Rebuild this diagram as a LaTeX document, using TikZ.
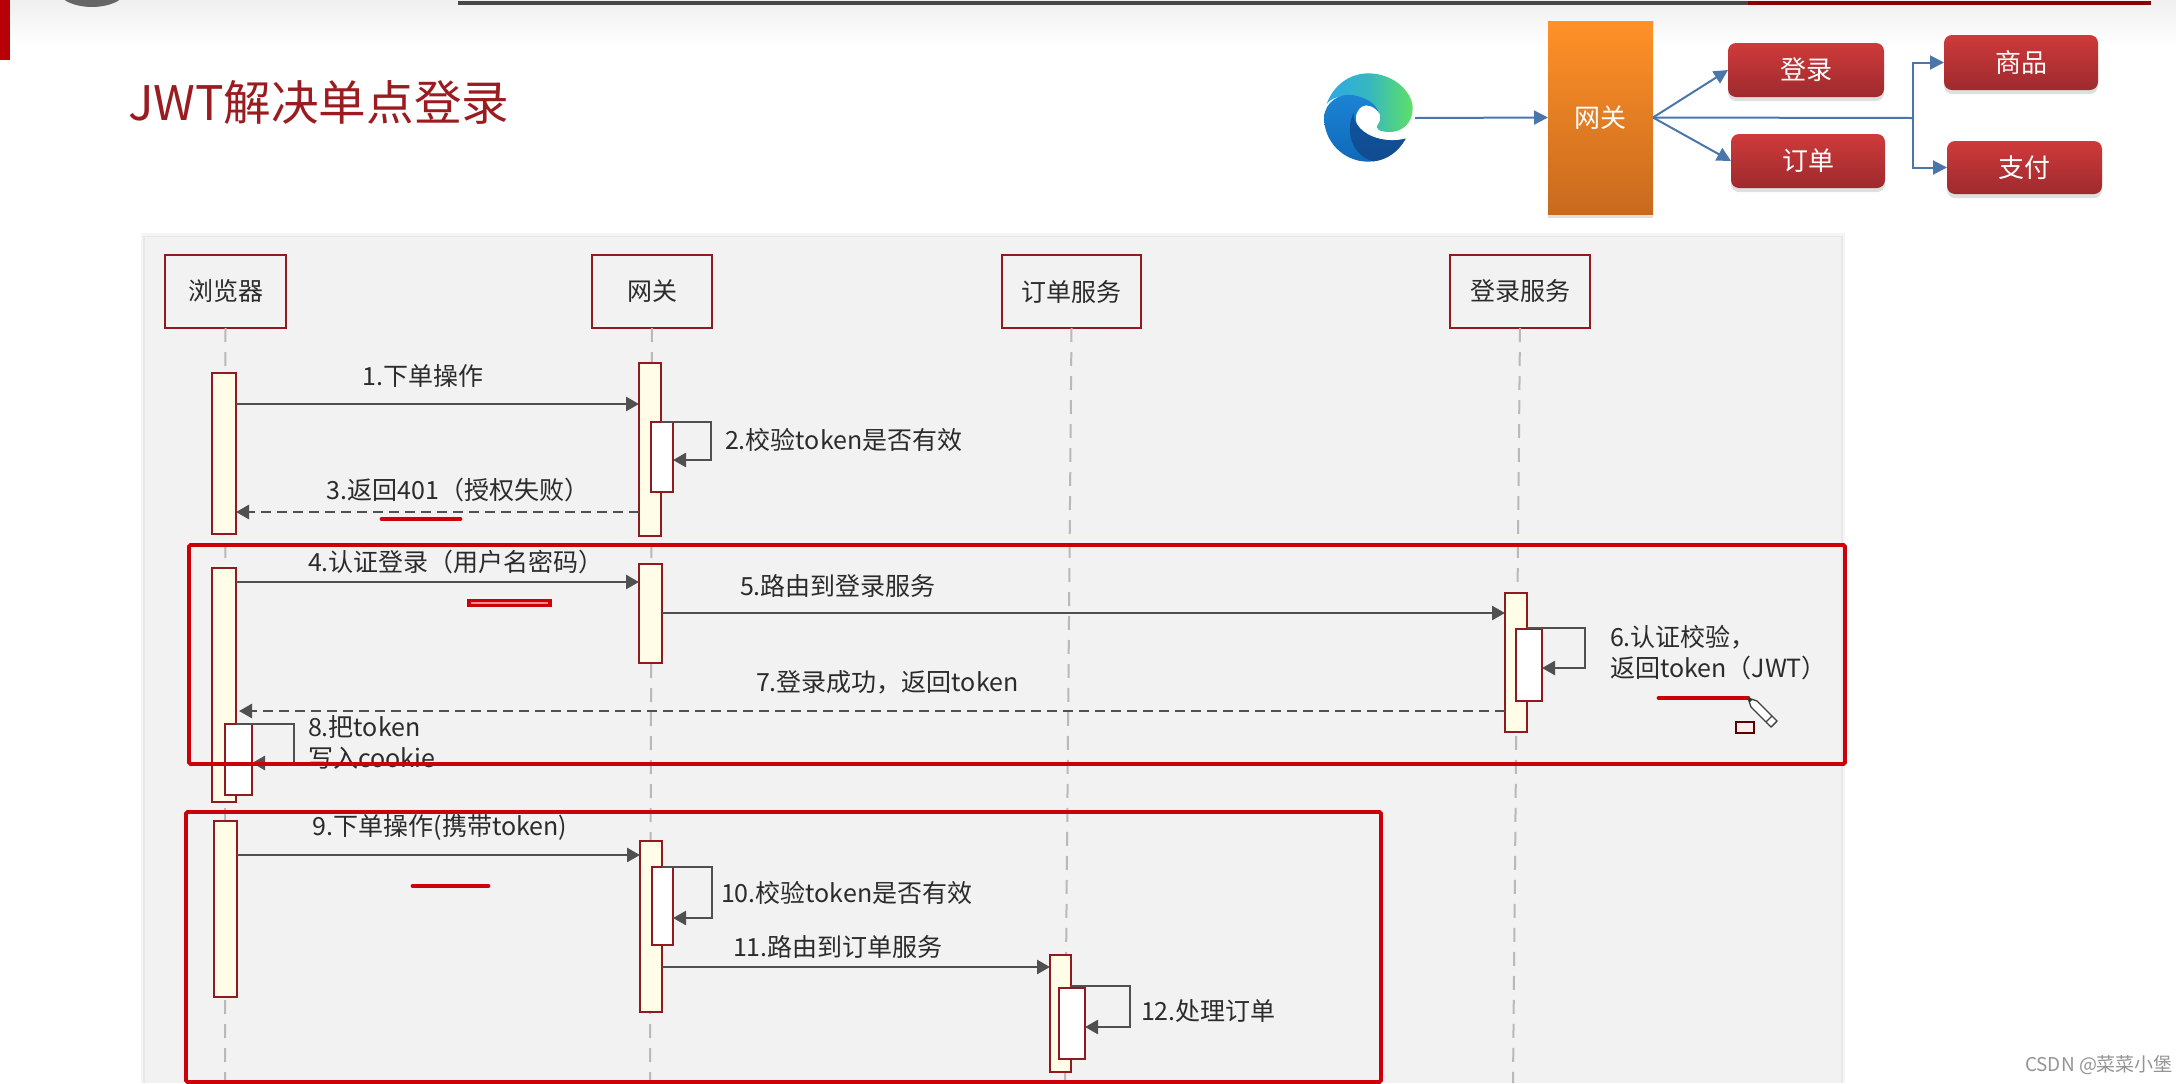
\documentclass[tikz,border=0pt]{standalone}
\usepackage{fontspec}
\setmainfont{Noto Sans CJK SC}
\usetikzlibrary{arrows.meta,shadows,calc}
\definecolor{panelc}{HTML}{F2F2F3}
\definecolor{headc}{HTML}{8F1A1F}
\definecolor{actfill}{HTML}{FFFDE8}
\definecolor{inkc}{HTML}{2B2B2B}
\definecolor{arrowc}{HTML}{505050}
\definecolor{redbox}{HTML}{CC0008}
\definecolor{bluec}{HTML}{4A76AC}
\definecolor{titlec}{HTML}{9B1C20}
\definecolor{svctop}{HTML}{CF3A3A}
\definecolor{svcbot}{HTML}{9E2A2E}
\definecolor{gwtop}{HTML}{FF9128}
\definecolor{gwbot}{HTML}{C86A1E}
\definecolor{edgea}{HTML}{2FA8E6}
\definecolor{edgem}{HTML}{36B8BE}
\definecolor{edgeb}{HTML}{5FE066}
\definecolor{edgec}{HTML}{1C84D4}
\definecolor{edged}{HTML}{0F69BA}
\definecolor{edgee}{HTML}{0E559F}
\definecolor{edgef}{HTML}{124B8F}
\tikzset{
  x=0.5pt,y=-0.5pt,
  every node/.style={inner sep=0pt,outer sep=0pt,text=inkc,font=\fontsize{12.5}{15.5}\selectfont},
  headbox/.style={draw=headc,line width=1.2pt,fill=panelc,align=center},
  actbox/.style={draw=headc,line width=1.3pt,fill=actfill},
  innerbox/.style={draw=headc,line width=1.3pt,fill=white},
  lifeline/.style={draw=gray!55,line width=1pt,dash pattern=on 7pt off 5pt},
  msg/.style={draw=arrowc,line width=1.3pt,-{Triangle[length=6.5pt,width=7pt]}},
  msgback/.style={msg,dash pattern=on 5pt off 3pt},
  label/.style={anchor=west,align=left},
  clabel/.style={anchor=center},
  redframe/.style={draw=redbox,line width=1.9pt,rounded corners=0.8pt},
  redmark/.style={draw=redbox,line width=2.4pt,line cap=round},
  service/.style={rounded corners=4pt,top color=svctop,bottom color=svcbot,text=white,font=\fontsize{13}{15}\selectfont,drop shadow={opacity=0.25,shadow xshift=0pt,shadow yshift=-2pt}},
  gwbox/.style={top color=gwtop,bottom color=gwbot,text=white,font=\fontsize{13}{15}\selectfont,drop shadow={opacity=0.25,shadow xshift=0pt,shadow yshift=-2pt}},
  flow/.style={draw=bluec,line width=1pt},
  flowto/.style={flow,-{Triangle[length=7pt,width=7pt,fill=bluec]}},
}
% \bx{style}{name}{x1}{y1}{x2}{y2}{text}
\newcommand{\bx}[7]{\node[#1,minimum width={(#5-#3)*0.5pt},minimum height={(#6-#4)*0.5pt}] (#2) at ({(#3+#5)/2},{(#4+#6)/2}) {#7};}
\begin{document}
\begin{tikzpicture}
\useasboundingbox (0,0) rectangle (2176,1083);
\fill[white] (0,0) rectangle (2176,1083);
% top band
\shade[top color=black!6,bottom color=white] (0,0) rectangle (2176,46);
\fill[black!60] (92,-13) ellipse [x radius=18pt,y radius=10pt];
\fill[redbox!90!black] (0,0) rectangle (10,60);
\fill[black!72] (458,1) rectangle (1748,5);
\fill[red!55!black] (1748,1) rectangle (2151,5);
% title
\node[anchor=west,text=titlec,font=\fontsize{23.8}{28}\selectfont] (title) at (128,102) {JWT解决单点登录};

% browser logo
\begin{scope}[shift={(1310,60)},x=0.16667pt,y=-0.16667pt]
\shade[left color=edgea,right color=edgeb,middle color=edgem]
  (50,132) .. controls (70,75) and (120,40) .. (175,40) .. controls (250,40) and (308,95) .. (308,145)
  .. controls (308,190) and (275,217) .. (238,216) .. controls (210,215) and (192,208) .. (205,192)
  .. controls (220,170) and (205,135) .. (165,120) .. controls (120,100) and (70,105) .. (50,132) -- cycle;
\shade[top color=edgec,bottom color=edged]
  (42,172) .. controls (45,125) and (90,100) .. (125,105) .. controls (165,110) and (198,130) .. (208,160)
  .. controls (195,140) and (170,130) .. (155,140) .. controls (135,155) and (130,185) .. (150,205)
  .. controls (175,232) and (230,250) .. (287,236) .. controls (262,280) and (215,305) .. (175,305)
  .. controls (100,305) and (42,245) .. (42,172) -- cycle;
\shade[top color=edgee,bottom color=edgef]
  (132,158) .. controls (105,205) and (120,285) .. (190,304) .. controls (232,300) and (265,275) .. (287,236)
  .. controls (230,250) and (175,232) .. (150,205) .. controls (135,190) and (128,175) .. (132,158) -- cycle;
\end{scope}
\coordinate (logo) at (1415,118);

% gateway + services
\bx{gwbox}{gw}{1548}{21}{1653}{214}{网关}
\bx{service}{login}{1728}{43}{1884}{97}{登录}
\bx{service}{order}{1731}{134}{1885}{188}{订单}
\bx{service}{shop}{1944}{35}{2098}{90}{商品}
\bx{service}{pay}{1947}{141}{2102}{194}{支付}
\coordinate (gwout) at (gw.east);
\coordinate (junction) at (1913,118);
\draw[flowto] (logo) -- (gw.west);
\draw[flowto] (gwout) -- (login.west);
\draw[flowto] (gwout) -- (order.west);
\draw[flow] (gwout) -- (junction);
\draw[flowto] (junction) |- (shop.west);
\draw[flowto] (junction) |- (pay.west);

% panel
\fill[black!4] (141,233) rectangle (1845,1083);
\fill[black!9] (143,235.5) rectangle (1843,1083);
\fill[panelc] (145,237) rectangle (1841,1083);

% heads
\bx{headbox}{hb}{165}{255}{286}{328}{浏览器}
\bx{headbox}{hg}{592}{255}{712}{328}{网关}
\bx{headbox}{ho}{1002}{255}{1141}{328}{订单服务}
\bx{headbox}{hl}{1450}{255}{1590}{328}{登录服务}
\coordinate (eb) at (225,1083);
\coordinate (eg) at (650,1083);
\coordinate (eo) at (1065,1083);
\coordinate (el) at (1513,1083);
\draw[lifeline] (hb.south) -- (eb);
\draw[lifeline] (hg.south) -- (eg);
\draw[lifeline] (ho.south) -- (eo);
\draw[lifeline] (hl.south) -- (el);

% activations
\bx{actbox}{b1}{212}{373}{236}{534}{}
\bx{actbox}{g1}{639}{363}{661}{536}{}
\bx{innerbox}{gi1}{651}{422}{673}{492}{}
\bx{actbox}{b2}{212}{568}{236}{802}{}
\bx{actbox}{g2}{639}{564}{662}{663}{}
\bx{actbox}{l2}{1505}{593}{1527}{732}{}
\bx{innerbox}{li2}{1516}{629}{1542}{701}{}
\bx{innerbox}{bi2}{225}{724}{252}{795}{}
\bx{actbox}{b3}{214}{821}{237}{997}{}
\bx{actbox}{g3}{640}{841}{662}{1012}{}
\bx{innerbox}{gi3}{652}{867}{673}{945}{}
\bx{actbox}{o3}{1050}{955}{1071}{1072}{}
\bx{innerbox}{oi3}{1059}{988}{1085}{1059}{}

% messages
\draw[msg] (b1.east |- 0,404) -- (g1.west |- 0,404);
\draw[msg] (g1.east |- 0,422) -- (711,422) -- (711,460) -- (gi1.east |- 0,460);
\draw[msgback] (g1.west |- 0,512) -- (b1.east |- 0,512);
\draw[msg] (b2.east |- 0,582) -- (g2.west |- 0,582);
\draw[msg] (g2.east |- 0,613) -- (l2.west |- 0,613);
\draw[msg] (l2.east |- 0,628) -- (1585,628) -- (1585,668) -- (li2.east |- 0,668);
\draw[msgback] (l2.west |- 0,711) -- (239,711);
\draw[msg] (b2.east |- 0,724) -- (294,724) -- (294,763) -- (bi2.east |- 0,763);
\draw[msg] (b3.east |- 0,855) -- (g3.west |- 0,855);
\draw[msg] (g3.east |- 0,867) -- (712,867) -- (712,918) -- (gi3.east |- 0,918);
\draw[msg] (g3.east |- 0,967) -- (o3.west |- 0,967);
\draw[msg] (o3.east |- 0,986) -- (1130,986) -- (1130,1027) -- (oi3.east |- 0,1027);

% labels
\node[clabel] (t1) at (423,376) {1.下单操作};
\node[label] (t2) at (725,440) {2.校验token是否有效};
\node[clabel] (t3) at (458,490) {3.返回401（授权失败）};
\node[clabel] (t4) at (456,562) {4.认证登录（用户名密码）};
\node[label] (t5) at (740,586) {5.路由到登录服务};
\node[label] (t6) at (1610,653) {6.认证校验，\\返回token（JWT）};
\node[label] (t7) at (756,682) {7.登录成功，返回token};
\node[label] (t8) at (308,742) {8.把token\\写入cookie};
\node[clabel] (t9) at (440,827) {9.下单操作(携带token)};
\node[label] (t10) at (721,893) {10.校验token是否有效};
\node[label] (t11) at (733,947) {11.路由到订单服务};
\node[label] (t12) at (1141,1011) {12.处理订单};

% red annotations
\draw[redframe] (189,545) rectangle (1845,764);
\draw[redframe] (186,812) rectangle (1381,1082);
\draw[redmark] (382,519) -- (460,519);
\fill[redbox] (467,599) rectangle (552,607);
\fill[red!45!white] (471,602) rectangle (548,604);
\draw[redmark] (1659,698) -- (1748,698);
\draw[redmark] (413,886) -- (488,886);
\draw[draw=red!35!black,fill=red!8!white,line width=0.8pt] (1736,722) rectangle (1754,733);
% pencil
\draw[draw=black!75,fill=white,line width=0.7pt,line join=round]
  (1748,698) -- (1751,707) -- (1771,727) -- (1777,721) -- (1757,701) -- cycle;
\draw[draw=black!75,line width=0.6pt] (1766,722) -- (1772,716);
\fill[black!80] (1748,698) -- (1749.5,702.5) -- (1752.5,699.5) -- cycle;

% watermark
\node[anchor=west,text=black!42,font=\fontsize{9.5}{11}\selectfont] (wm) at (2025,1065) {CSDN @菜菜小堡};
\end{tikzpicture}
\end{document}
